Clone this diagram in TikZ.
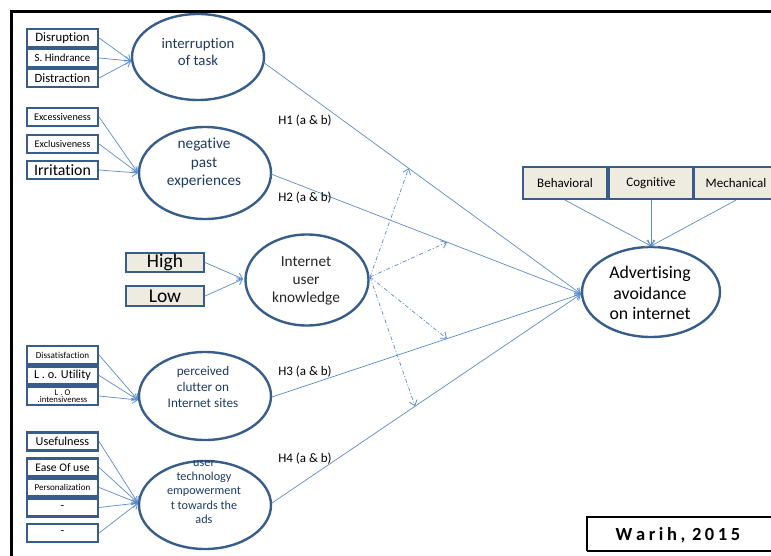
\documentclass[tikz,border=0pt]{standalone}
\usepackage{fontspec}
\setmainfont{Carlito}[Ligatures=NoCommon]
\usetikzlibrary{shapes.geometric,arrows.meta,calc}
\definecolor{bord}{HTML}{385D8A}
\definecolor{arr}{HTML}{5B8BC9}
\definecolor{beige}{HTML}{EEECE1}
\definecolor{navy}{HTML}{1F3A60}
\newcommand{\fs}[1]{\fontsize{#1}{#1}\selectfont}
\begin{document}
\begin{tikzpicture}[x=1pt,y=-1pt,
  box/.style={draw=bord,line width=2.2pt,fill=white,minimum width=71pt,minimum height=18pt,inner sep=0pt,anchor=center},
  bbox/.style={box,fill=beige},
  ell/.style={ellipse,draw=bord,line width=2.4pt,inner sep=0pt},
  etext/.style={align=center,inner sep=0pt},
  con/.style={draw=arr,line width=0.7pt,-{Straight Barb[length=5pt,width=8pt,line width=0.8pt]}},
  dd/.style={con,dash pattern=on 4pt off 2pt on 1pt off 2pt},
  hlab/.style={font=\fs{13},inner sep=0pt}]
\useasboundingbox (0,0) rectangle (771,556);
\clip (0,0) rectangle (771,556);
% frame
\draw[line width=3pt,black] (10,11.5) -- (771,11.5);
\draw[line width=3pt,black] (11.5,10) -- (11.5,556);

% ellipses
\node[ell,minimum width=132pt,minimum height=86pt] (e1) at (198,57) {};
\node[etext,text=navy,font={\fontsize{14.8}{17.7}\selectfont}] (e1t) at (198,52) {interruption\\of task};
\node[ell,minimum width=132pt,minimum height=92pt] (e2) at (205,173) {};
\node[etext,text=navy,font={\fontsize{15.3}{18.3}\selectfont}] (e2t) at (204,163) {negative\\past\\experiences};
\node[ell,minimum width=123pt,minimum height=91pt] (e3) at (307,280) {};
\node[etext,text=black!85,font={\fontsize{15.3}{18.3}\selectfont}] (e3t) at (306,281) {Internet\\user\\knowledge};
\node[ell,minimum width=132pt,minimum height=88pt] (e4) at (205,396) {};
\node[etext,text=navy,font={\fontsize{13.2}{15.8}\selectfont}] (e4t) at (203,387) {perceived\\clutter on\\Internet sites};
\node[ell,minimum width=132pt,minimum height=88pt] (e5) at (205,505) {};
\node[etext,text=navy,font={\fontsize{12.2}{14.4}\selectfont}] (e5t) at (204,492) {user\\technology\\empowerment\\t towards the\\ads};
\node[ell,minimum width=138pt,minimum height=90pt] (e6) at (651,292) {};
\node[etext,text=black,font={\fontsize{17.8}{20.8}\selectfont}] (e6t) at (650,293) {Advertising\\avoidance\\on internet};

% group 1
\node[box,font=\fs{12.8}] (b11) at (62.5,38) {Disruption};
\node[box,font=\fs{10.9}] (b12) at (62.5,58) {S. Hindrance};
\node[box,font=\fs{12.6}] (b13) at (62.5,78) {Distraction};
% group 2
\node[box,font=\fs{10.2}] (b21) at (62.5,117) {Excessiveness};
\node[box,font=\fs{10.2}] (b22) at (62.5,144) {Exclusiveness};
\node[box,font=\fs{15.8}] (b23) at (62.5,170) {Irritation};
% group 3
\node[bbox,minimum width=78pt,minimum height=19pt,font=\fs{19.5}] (b31) at (165,262.5) {High};
\node[bbox,minimum width=78pt,minimum height=20pt,font=\fs{19.5}] (b32) at (165,296) {Low};
% group 4
\node[box,font=\fs{9.1}] (b41) at (62.5,355) {Dissatisfaction};
\node[box,font=\fs{12.2}] (b42) at (62.5,375.5) {L . o. Utility};
\node[box,font=\fs{8.7},align=center] (b43) at (62.5,396) {L . O\\[-1.5pt].intensiveness};
% group 5
\node[box,font=\fs{12.2}] (b51) at (62.5,441.5) {Usefulness};
\node[box,font=\fs{11.6}] (b52) at (62.5,467.5) {Ease Of use};
\node[box,font=\fs{9}] (b53) at (62.5,487.5) {Personalization};
\node[box,font=\fs{12}] (b54) at (62.5,507.5) {-};
\node[box,font=\fs{12}] (b55) at (62.5,533) {-};
% top boxes
\node[bbox,minimum width=84pt,minimum height=32pt,font=\fs{13}] (t1) at (565,183) {Behavioral};
\node[bbox,minimum width=84pt,minimum height=32pt,font=\fs{13}] (t2) at (651,183) {Cognitive};
\node[bbox,minimum width=84pt,minimum height=32pt,font=\fs{13}] (t3) at (736,183) {Mechanical};

% convergence points
\coordinate (c1) at (131,61);
\coordinate (c2) at (138,173);
\coordinate (c3) at (243,279);
\coordinate (c4) at (138,400);
\coordinate (c5) at (138,503);
\coordinate (c6) at (651,246);
\coordinate (cm) at (581,294);
\coordinate (s1) at (263,62);
\coordinate (s2) at (271,174);
\coordinate (s3) at (272,397);
\coordinate (s4) at (272,503);
\coordinate (d0) at (370,277);

\foreach \b in {b11,b12,b13} \draw[con] (\b.east) -- (c1);
\foreach \b in {b21,b22,b23} \draw[con] (\b.east) -- (c2);
\foreach \b in {b31,b32} \draw[con] (\b.east) -- (c3);
\foreach \b in {b41,b42,b43} \draw[con] (\b.east) -- (c4);
\foreach \b in {b51,b52,b53,b54,b55} \draw[con] (\b.east) -- (c5);
\foreach \b in {t1,t2,t3} \draw[con] (\b.south) -- (c6);
\foreach \s in {s1,s2,s3,s4} \draw[con] (\s) -- (cm);

% dash-dot moderating arrows
\draw[dd] (d0) -- ($(s1)!0.458!(cm)$);
\draw[dd] (d0) -- ($(s2)!0.568!(cm)$);
\draw[dd] (d0) -- ($(s3)!0.566!(cm)$);
\draw[dd] (d0) -- ($(s4)!0.463!(cm)$);

% hypothesis labels
\node[hlab] (h1) at (305,121) {H1 (a \& b)};
\node[hlab] (h2) at (305,198) {H2 (a \& b)};
\node[hlab] (h3) at (305,372) {H3 (a \& b)};
\node[hlab] (h4) at (305,459) {H4 (a \& b)};

% source box
\draw[line width=2pt,black] (587,551) -- (587,517) -- (790,517) (587,551) -- (790,551);
\node[font=\bfseries\fs{18.5},inner sep=0pt] (src) at (678,535) {W\kern3.6pt a\kern3.6pt r\kern3.6pt i\kern3.6pt h\kern3.6pt ,\kern3.6pt\kern3pt 2\kern3.6pt 0\kern3.6pt 1\kern3.6pt 5};
\end{tikzpicture}
\end{document}
